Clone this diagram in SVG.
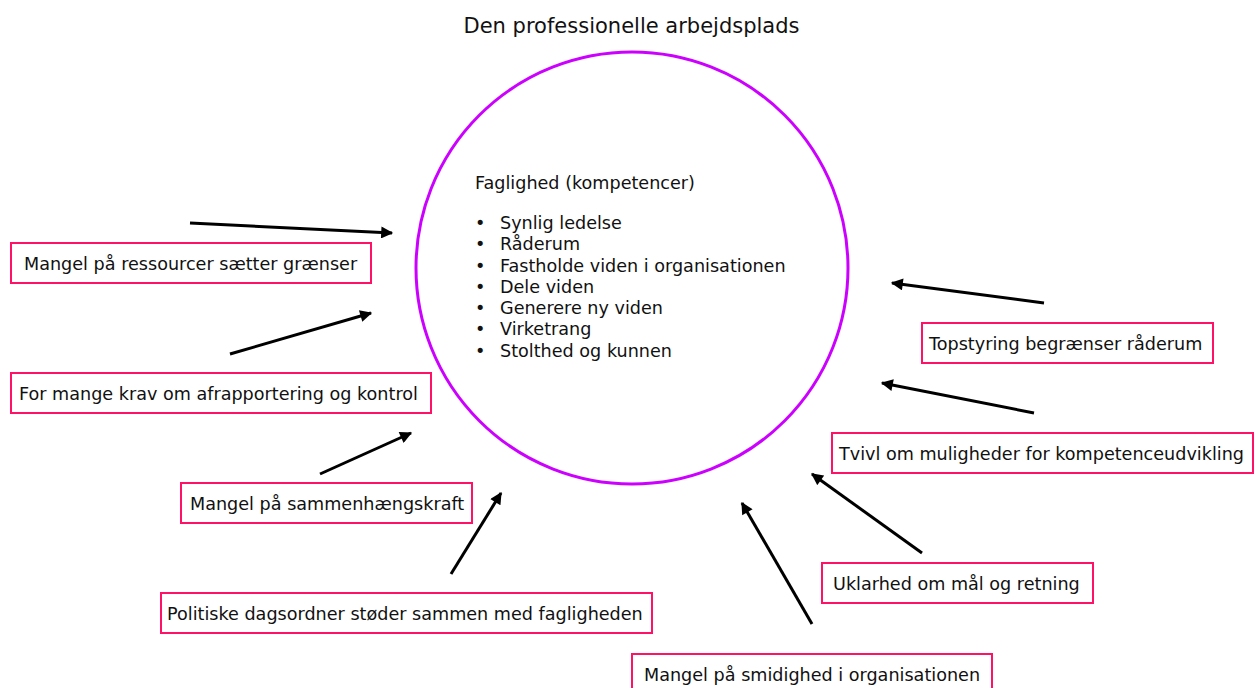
<svg xmlns="http://www.w3.org/2000/svg" width="1255" height="688" viewBox="0 0 1255 688">
<style>
text{font-family:"DejaVu Sans",Verdana,sans-serif;font-size:17.6px;fill:#111}
.box rect{fill:#fff;stroke:#ff1166;stroke-width:2}
.title{font-size:21px}
.conn line{stroke:#000;stroke-width:3;marker-end:url(#ah)}
</style>
<defs>
<marker id="ah" viewBox="0 0 10 10" refX="9" refY="5" markerWidth="4.5" markerHeight="4" markerUnits="strokeWidth" orient="auto">
<path d="M0,0 L10,5 L0,10 z" fill="#000"/>
</marker>
</defs>
<rect width="1255" height="688" fill="#fff"/>
<text class="title" x="631.5" y="32.5" text-anchor="middle">Den professionelle arbejdsplads</text>
<g id="center">
<ellipse cx="632" cy="268" rx="216" ry="216" fill="none" stroke="#cc00ff" stroke-width="3"/>
<text x="475" y="189">Faglighed (kompetencer)</text>
<g>
<text x="475" y="229">•</text><text x="500" y="229">Synlig ledelse</text>
<text x="475" y="250">•</text><text x="500" y="250">Råderum</text>
<text x="475" y="272">•</text><text x="500" y="272">Fastholde viden i organisationen</text>
<text x="475" y="293">•</text><text x="500" y="293">Dele viden</text>
<text x="475" y="314">•</text><text x="500" y="314">Generere ny viden</text>
<text x="475" y="335">•</text><text x="500" y="335">Virketrang</text>
<text x="475" y="357">•</text><text x="500" y="357">Stolthed og kunnen</text>
</g>
</g>
<g id="n1" class="box"><rect x="11" y="243" width="360" height="40"/><text x="24" y="270">Mangel på ressourcer sætter grænser</text></g>
<g id="n2" class="box"><rect x="11" y="373" width="420" height="40"/><text x="19" y="400">For mange krav om afrapportering og kontrol</text></g>
<g id="n3" class="box"><rect x="181" y="483" width="291" height="40"/><text x="190" y="510">Mangel på sammenhængskraft</text></g>
<g id="n4" class="box"><rect x="161" y="593" width="491" height="40"/><text x="167" y="620">Politiske dagsordner støder sammen med fagligheden</text></g>
<g id="n5" class="box"><rect x="632" y="654" width="360" height="40"/><text x="644" y="681">Mangel på smidighed i organisationen</text></g>
<g id="n6" class="box"><rect x="822" y="563" width="271" height="40"/><text x="833" y="590">Uklarhed om mål og retning</text></g>
<g id="n7" class="box"><rect x="922" y="323" width="291" height="40"/><text x="929" y="350">Topstyring begrænser råderum</text></g>
<g id="n8" class="box"><rect x="832" y="433" width="421" height="40"/><text x="839" y="460">Tvivl om muligheder for kompetenceudvikling</text></g>
<g id="connectors" class="conn">
<line x1="190" y1="223" x2="392" y2="233"/>
<line x1="230" y1="354" x2="371" y2="313"/>
<line x1="320" y1="474" x2="411" y2="433"/>
<line x1="451" y1="574" x2="501" y2="493"/>
<line x1="812" y1="624" x2="742" y2="503"/>
<line x1="922" y1="553" x2="812" y2="474"/>
<line x1="1044" y1="303" x2="892" y2="283"/>
<line x1="1034" y1="413" x2="882" y2="383"/>
</g>
</svg>
